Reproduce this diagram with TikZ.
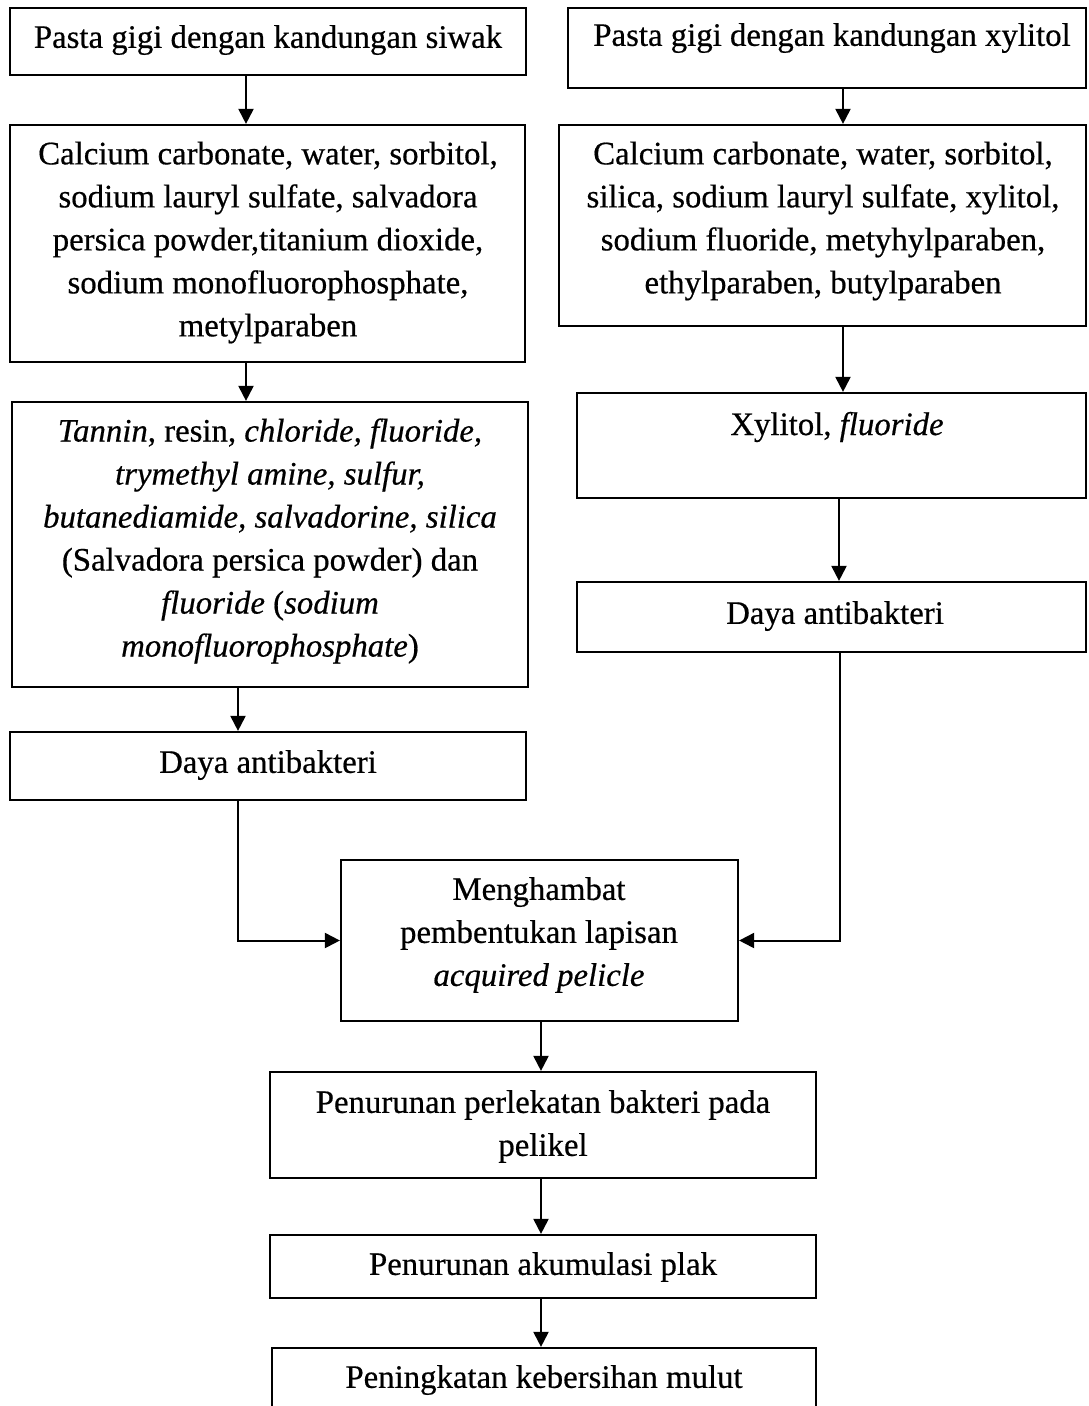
\documentclass[tikz,border=0pt]{standalone}
\usepackage{fontspec}
\setmainfont{Liberation Serif}[FakeBold=0.5]
\usetikzlibrary{arrows.meta}
\tikzset{
  boxst/.style={draw, line width=2.2pt, inner sep=0pt, rectangle},
  lbl/.style={align=center, inner sep=0pt, font=\fontsize{32.8}{43}\selectfont},
  arr/.style={line width=2pt, -{Triangle[length=15pt,width=15pt]}},
  ln/.style={line width=2pt}
}
\begin{document}
\begin{tikzpicture}[x=1pt,y=-1pt]
\useasboundingbox (0,0) rectangle (1088,1406);
\clip (0,0) rectangle (1088,1406);
\fill[white] (0,0) rectangle (1088,1406);
% boxes
\node[boxst, minimum width=516pt, minimum height=67pt]  (B1) at (268,41.5) {};
\node[boxst, minimum width=515pt, minimum height=237pt] (B2) at (267.5,243.5) {};
\node[boxst, minimum width=516pt, minimum height=285pt] (B3) at (270,544.5) {};
\node[boxst, minimum width=516pt, minimum height=68pt]  (B4) at (268,766) {};
\node[boxst, minimum width=518pt, minimum height=80pt]  (R1) at (827,48) {};
\node[boxst, minimum width=527pt, minimum height=201pt] (R2) at (822.5,225.5) {};
\node[boxst, minimum width=509pt, minimum height=105pt] (R3) at (831.5,445.5) {};
\node[boxst, minimum width=509pt, minimum height=70pt]  (R4) at (831.5,617) {};
\node[boxst, minimum width=397pt, minimum height=161pt] (B5) at (539.5,940.5) {};
\node[boxst, minimum width=546pt, minimum height=106pt] (B6) at (543,1125) {};
\node[boxst, minimum width=546pt, minimum height=63pt]  (B7) at (543,1266.5) {};
\node[boxst, minimum width=544pt, minimum height=72pt]  (B8) at (544,1384) {};
% labels
\node[lbl] (tB1) at (268,40) {Pasta gigi dengan kandungan siwak};
\node[lbl] (tB2) at (268,242.5) {Calcium carbonate, water, sorbitol,\\sodium lauryl sulfate, salvadora\\persica powder,titanium dioxide,\\sodium monofluorophosphate,\\metylparaben};
\node[lbl] (tB3) at (270,541) {\textit{Tannin}, resin, \textit{chloride, fluoride,}\\\textit{trymethyl amine, sulfur,}\\\textit{butanediamide, salvadorine, silica}\\(Salvadora persica powder) dan\\\textit{fluoride} (\textit{sodium}\\\textit{monofluorophosphate})};
\node[lbl] (tB4) at (268,765) {Daya antibakteri};
\node[lbl] (tR1) at (832,38) {Pasta gigi dengan kandungan xylitol};
\node[lbl] (tR2) at (823,221) {Calcium carbonate, water, sorbitol,\\silica, sodium lauryl sulfate, xylitol,\\sodium fluoride, metyhylparaben,\\ethylparaben, butylparaben};
\node[lbl] (tR3) at (837,427) {Xylitol, \textit{fluoride}};
\node[lbl] (tR4) at (835,616) {Daya antibakteri};
\node[lbl] (tB5) at (539,935) {Menghambat\\pembentukan lapisan\\\textit{acquired pelicle}};
\node[lbl] (tB6) at (543,1126.5) {Penurunan perlekatan bakteri pada\\pelikel};
\node[lbl] (tB7) at (543,1267) {Penurunan akumulasi plak};
\node[lbl] (tB8) at (544,1380) {Peningkatan kebersihan mulut};
% connectors
\draw[arr] (246,0 |- B1.south) -- (246,0 |- B2.north);
\draw[arr] (246,0 |- B2.south) -- (246,0 |- B3.north);
\draw[arr] (238,0 |- B3.south) -- (238,0 |- B4.north);
\draw[arr] (238,0 |- B4.south) |- (B5.west);
\draw[arr] (843,0 |- R1.south) -- (843,0 |- R2.north);
\draw[arr] (843,0 |- R2.south) -- (843,0 |- R3.north);
\draw[arr] (839,0 |- R3.south) -- (839,0 |- R4.north);
\draw[arr] (840,0 |- R4.south) |- (B5.east);
\draw[arr] (541,0 |- B5.south) -- (541,0 |- B6.north);
\draw[arr] (541,0 |- B6.south) -- (541,0 |- B7.north);
\draw[arr] (541,0 |- B7.south) -- (541,0 |- B8.north);
\end{tikzpicture}
\end{document}
